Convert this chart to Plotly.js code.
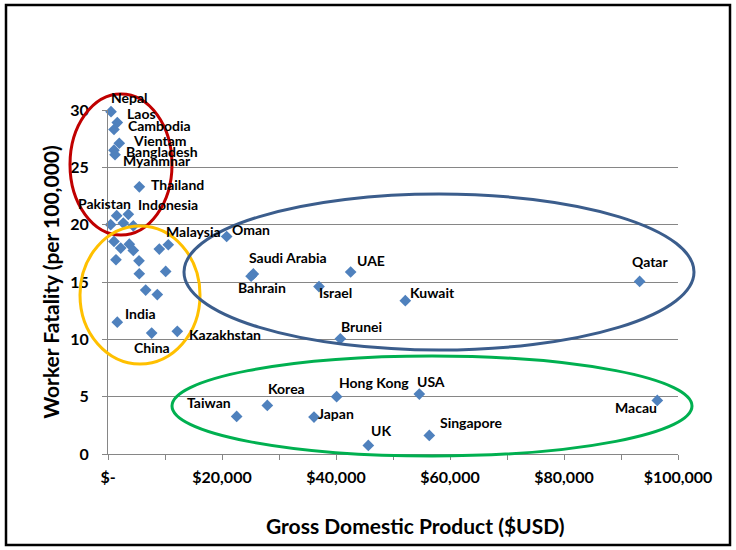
<!DOCTYPE html>
<html>
<head>
<meta charset="utf-8">
<script src="https://cdn.plot.ly/plotly-3.0.1.min.js"></script>
<style>
  html, body { margin: 0; padding: 0; background: #fff; }
  #chart { width: 736px; height: 550px; }
</style>
</head>
<body>
<div id="chart"></div>
<script>
// ---- data ----
const countries = [
  "Nepal", "Laos", "Cambodia", "Vientam", "Bangladesh", "Myanmnar", "Thailand",
  "Pakistan", "Indonesia", "Malaysia", "Oman", "Saudi Arabia", "Bahrain", "UAE",
  "Israel", "Kuwait", "Qatar", "Brunei", "India", "China", "Kazakhstan",
  "Taiwan", "Korea", "Hong Kong", "Japan", "USA", "UK", "Singapore", "Macau",
  "", "", "", "", "", "", "", "", "", "", "", "", "", ""
];
const gdp = [
  530, 1630, 1050, 1980, 1050, 1230, 5500,
  1520, 3570, 10580, 20820, 25500, 25100, 42570,
  37020, 52160, 93270, 40760, 1630, 7660, 12160,
  22570, 27950, 40110, 36140, 54620, 45670, 56370, 96370,
  470, 2690, 4440, 1050, 2230, 3740, 4440, 1400, 5440, 9000, 5490, 10120, 6610, 8650
];
const fatality = [
  29.85, 28.9, 28.3, 27.1, 26.5, 26.1, 23.3,
  20.78, 20.9, 18.25, 18.97, 15.7, 15.5, 15.87,
  14.6, 13.37, 15.05, 10.05, 11.5, 10.55, 10.7,
  3.28, 4.24, 5.0, 3.22, 5.23, 0.75, 1.62, 4.67,
  20.0, 20.14, 19.9, 18.54, 17.96, 18.3, 17.75, 16.94, 16.85, 17.87, 15.72, 15.92, 14.3, 13.9
];
const xTickVals = [0, 20000, 40000, 60000, 80000, 100000];
const xTickText = ["$-", "$20,000", "$40,000", "$60,000", "$80,000", "$100,000"];

// label offsets from each point, in pixels (dx right, dy down)
const labelOffsets = {
  "Nepal": [18, -14], "Laos": [24, -9], "Cambodia": [46, -4], "Vientam": [41, -3],
  "Bangladesh": [48, 1], "Myanmnar": [42, 6], "Thailand": [38, -2],
  "Pakistan": [-12, -12], "Indonesia": [40, -10], "Malaysia": [25, -13],
  "Oman": [24, -7], "Saudi Arabia": [35, -16], "Bahrain": [11, 11], "UAE": [20, -12],
  "Israel": [16, 6], "Kuwait": [27, -8], "Qatar": [10, -20], "Brunei": [21, -12],
  "India": [23, -9], "China": [0, 14], "Kazakhstan": [48, 3],
  "Taiwan": [-28, -14], "Korea": [19, -17], "Hong Kong": [37, -14], "Japan": [22, -4],
  "USA": [12, -13], "UK": [13, -15], "Singapore": [42, -13], "Macau": [-21, 7]
};

// ---- plot frame in pixels ----
const W = 736, H = 550;
const M = { l: 108, r: 58, t: 110, b: 96 };
const PW = W - M.l - M.r, PH = H - M.t - M.b;
const px = v => (v - M.l) / PW;
const py = v => (M.t + PH - v) / PH;

function ellipse(x0, y0, x1, y1, color) {
  return {
    type: "circle", xref: "paper", yref: "paper",
    x0: px(x0), x1: px(x1), y0: py(y1), y1: py(y0),
    line: { color, width: 3 }, layer: "above"
  };
}

const labelFont = { family: "Lato, 'Open Sans', sans-serif", size: 14, color: "#000", weight: "bold" };

const annotations = [];
countries.forEach((name, i) => {
  if (!name) return;
  const off = labelOffsets[name] || [0, -12];
  annotations.push({
    x: gdp[i], y: fatality[i], xref: "x", yref: "y",
    text: "<b>" + name + "</b>", showarrow: false,
    xshift: off[0], yshift: -off[1], font: labelFont
  });
});
annotations.push({
  xref: "paper", yref: "paper", x: px(415), y: py(525),
  xanchor: "center", yanchor: "middle",
  text: "<b>Gross Domestic Product ($USD)</b>", showarrow: false,
  font: { family: "Lato, 'Open Sans', sans-serif", size: 21, color: "#000" }
});

const trace = {
  x: gdp, y: fatality, type: "scatter", mode: "markers",
  marker: { symbol: "diamond", size: 9, color: "#4F81BD" },
  hoverinfo: "skip", cliponaxis: false
};

const tickFont = { family: "Lato, 'Open Sans', sans-serif", size: 16, color: "#000", weight: "bold" };

const layout = {
  width: W, height: H,
  margin: M,
  paper_bgcolor: "#fff", plot_bgcolor: "#fff",
  showlegend: false,
  xaxis: {
    range: [0, 100000], tickvals: xTickVals, ticktext: xTickText,
    showgrid: false, zeroline: false, showline: true, linecolor: "#868686", linewidth: 1,
    ticks: "outside", ticklen: 5, tickcolor: "#868686",
    minor: { dtick: 10000, tick0: 0, ticks: "outside", ticklen: 5, tickcolor: "#868686", showgrid: false },
    tickfont: tickFont, ticklabelstandoff: 4, fixedrange: true
  },
  yaxis: {
    range: [0, 30], dtick: 5,
    showgrid: true, gridcolor: "#868686", gridwidth: 1,
    zeroline: false, showline: true, linecolor: "#868686", linewidth: 1,
    ticks: "outside", ticklen: 5, tickcolor: "#868686",
    tickfont: tickFont, ticklabelstandoff: 10,
    title: { text: "<b>Worker Fatality (per 100,000)</b>", standoff: 4,
             font: { family: "Lato, 'Open Sans', sans-serif", size: 21, color: "#000" } },
    fixedrange: true
  },
  annotations,
  shapes: [
    { type: "rect", xref: "paper", yref: "paper",
      x0: px(6), x1: px(730), y0: py(545), y1: py(5),
      line: { color: "#000", width: 2.5 }, layer: "below" },
    ellipse(70, 94, 172, 235, "#C00000"),
    ellipse(80, 226, 200, 364, "#FFC000"),
    ellipse(184, 194, 694, 350, "#3B5D8C"),
    ellipse(172, 356, 692, 456, "#00B050")
  ]
};

Plotly.newPlot("chart", [trace], layout, { displayModeBar: false, staticPlot: true });
</script>
</body>
</html>
